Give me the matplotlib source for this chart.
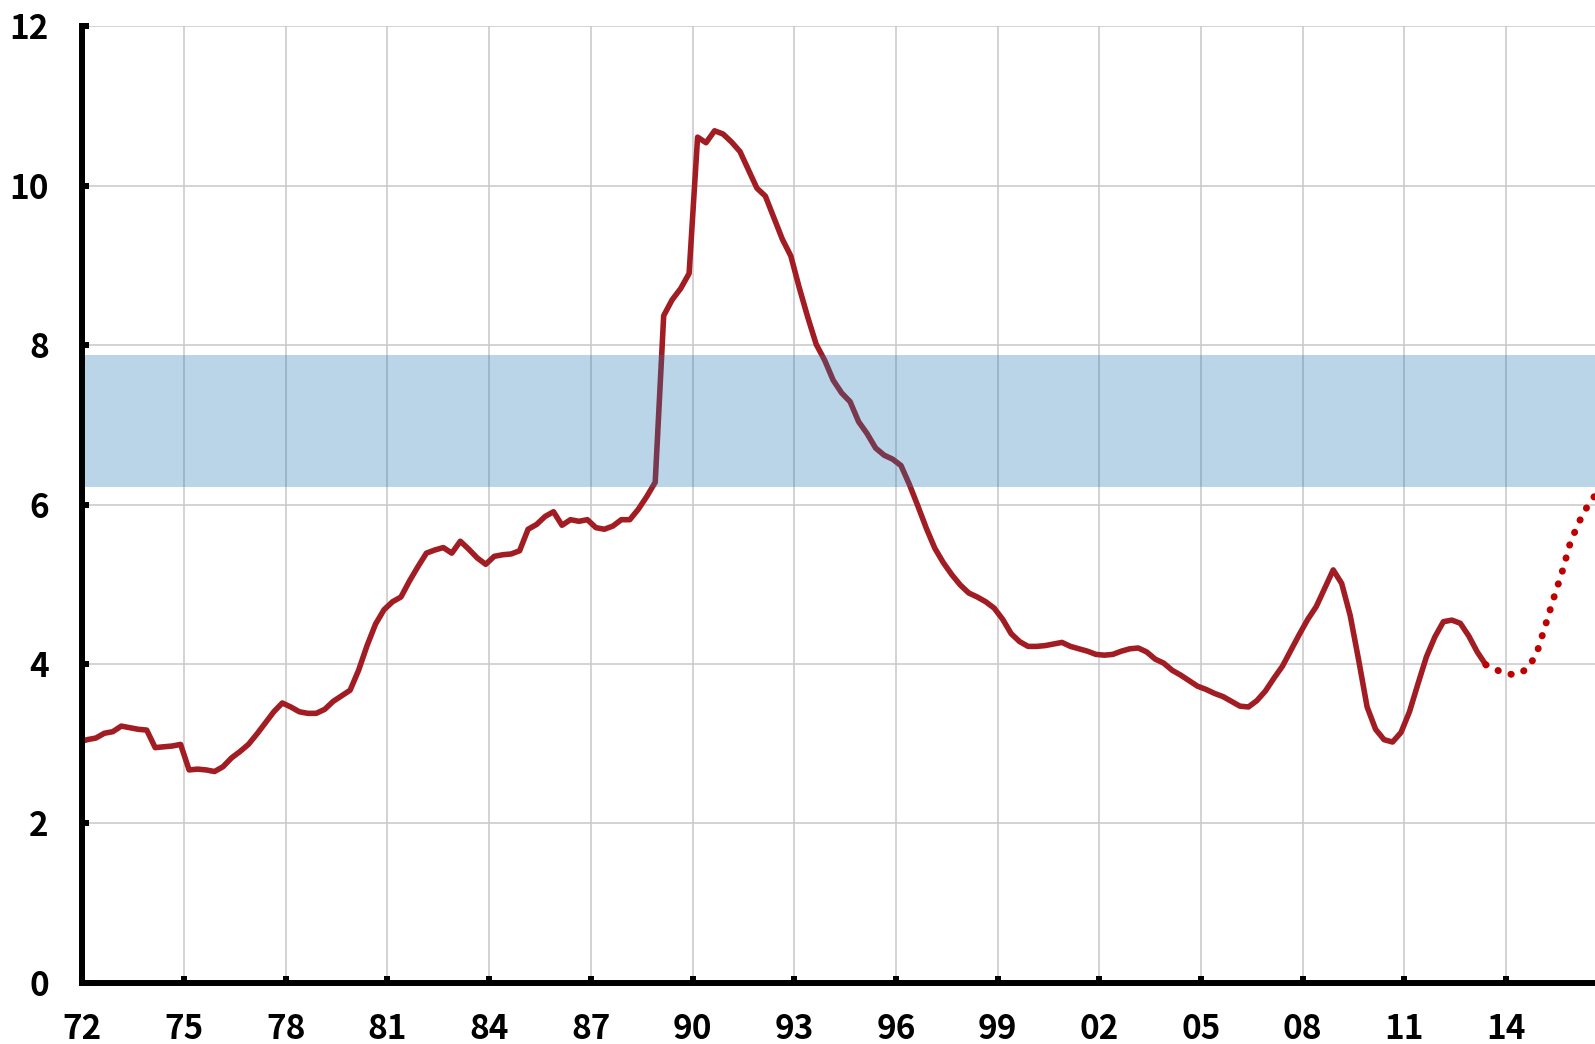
import numpy as np
import matplotlib
matplotlib.use("Agg")
import matplotlib.pyplot as plt

plt.rcParams['font.family'] = ['Noto Sans CJK SC', 'DejaVu Sans']

# quarterly series, first quarter plotted at the left edge
start = 1971.9
values = [3.02, 3.05, 3.07, 3.13, 3.15, 3.22, 3.20, 3.18, 3.17, 2.95,
          2.96, 2.97, 2.99, 2.67, 2.68, 2.67, 2.65, 2.71, 2.82, 2.90,
          2.99, 3.12, 3.26, 3.40, 3.51, 3.46, 3.40, 3.38, 3.38, 3.43,
          3.53, 3.60, 3.67, 3.92, 4.23, 4.50, 4.68, 4.78, 4.84, 5.04,
          5.22, 5.39, 5.43, 5.46, 5.39, 5.54, 5.44, 5.33, 5.25, 5.35,
          5.37, 5.38, 5.42, 5.69, 5.75, 5.85, 5.91, 5.74, 5.81, 5.79,
          5.81, 5.71, 5.69, 5.73, 5.81, 5.81, 5.94, 6.10, 6.28, 8.37,
          8.57, 8.71, 8.90, 10.61, 10.54, 10.69, 10.65, 10.55, 10.43, 10.20,
          9.97, 9.87, 9.60, 9.33, 9.12, 8.72, 8.35, 8.01, 7.81, 7.56,
          7.40, 7.29, 7.04, 6.89, 6.71, 6.62, 6.57, 6.49, 6.25, 5.98,
          5.70, 5.45, 5.27, 5.12, 4.99, 4.89, 4.84, 4.78, 4.70, 4.56,
          4.38, 4.28, 4.22, 4.22, 4.23, 4.25, 4.27, 4.22, 4.19, 4.16,
          4.12, 4.11, 4.12, 4.16, 4.19, 4.20, 4.15, 4.06, 4.01, 3.92,
          3.86, 3.79, 3.72, 3.68, 3.63, 3.59, 3.53, 3.47, 3.46, 3.54,
          3.66, 3.82, 3.97, 4.17, 4.37, 4.56, 4.72, 4.95, 5.18, 5.01,
          4.61, 4.05, 3.46, 3.18, 3.05, 3.02, 3.14, 3.40, 3.75, 4.09,
          4.34, 4.53, 4.55, 4.51, 4.35, 4.15, 3.99]
# projection (dotted), starting at the last actual quarter
forecast = [3.99, 3.94, 3.89, 3.87, 3.88, 3.95, 4.13, 4.47, 4.82, 5.15,
            5.53, 5.78, 5.98, 6.13]

band = (6.22, 7.88)
tick_years = list(range(1972, 2015, 3))
tick_labels = ['72', '75', '78', '81', '84', '87', '90', '93', '96', '99',
               '02', '05', '08', '11', '14']

x = start + 0.25 * np.arange(len(values))
xf = x[-1] + 0.25 * np.arange(len(forecast))

fig = plt.figure(figsize=(15.95, 10.44), dpi=100)
ax = fig.add_axes([82.3 / 1595, 1 - 982.7 / 1044, 1 - 82.3 / 1595, (982.7 - 26.4) / 1044])

ax.plot(x, values, color='#a11d23', lw=4.0, solid_joinstyle='round', zorder=2)
ax.plot(xf, forecast, color='#c00000', lw=5.0, linestyle=(0, (0.05, 1.9)),
        dash_capstyle='round', zorder=2)
ax.axhspan(band[0], band[1], color='#1f77b4', alpha=0.3, lw=0, zorder=3)

ax.set_xlim(1972, 1972 + (1595 - 82.3) / 33.9)
ax.set_ylim(0, 12)
ax.set_xticks(tick_years)
ax.set_xticklabels(tick_labels)
ax.set_yticks(range(0, 13, 2))

ax.set_axisbelow(True)
ax.grid(True, color='#c8c8c8', lw=1.1)
for s in ['top', 'right']:
    ax.spines[s].set_visible(False)
for s in ['left', 'bottom']:
    ax.spines[s].set_linewidth(4.3)
    ax.spines[s].set_zorder(4)
ax.tick_params(axis='both', direction='in', length=5, width=4.3,
               labelsize=24, colors='black')
ax.tick_params(axis='y', pad=24)
ax.tick_params(axis='x', pad=22)
for lab in ax.get_xticklabels() + ax.get_yticklabels():
    lab.set_fontweight('heavy')

fig.savefig('out.png', dpi=100)
